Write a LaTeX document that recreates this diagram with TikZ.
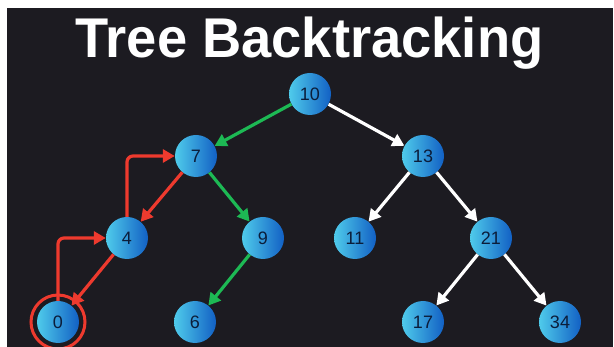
\documentclass[tikz,border=0pt]{standalone}
\usepackage{fontspec}
\setmainfont{Liberation Sans}
\usetikzlibrary{arrows.meta}
\definecolor{bg}{HTML}{1C1B21}
\definecolor{nodecyan}{HTML}{4FCBEB}
\definecolor{nodeblue}{HTML}{1260C4}
\definecolor{numcol}{HTML}{0B1D3A}
\definecolor{grn}{HTML}{1DB954}
\definecolor{redc}{HTML}{EE3A2E}
\tikzset{
  tnode/.style={circle, minimum size=42pt, inner sep=0pt, left color=nodecyan, right color=nodeblue, text=numcol, font=\fontsize{18}{18}\selectfont},
  edge/.style={line width=3.2pt, -{Triangle[length=12pt,width=13pt]}},
  wedge/.style={edge, white},
  gedge/.style={edge, grn},
  redge/.style={edge, redc},
  bedge/.style={edge, redc, rounded corners=6pt},
}
\begin{document}
\begin{tikzpicture}[x=1pt,y=-1pt]
\useasboundingbox (0,0) rectangle (614,347);
\fill[white] (0,0) rectangle (614,347);
\fill[bg] (7,8) rectangle (613,347);
\node[text=white, font=\bfseries\fontsize{56}{60}\selectfont, xscale=0.97, anchor=base] (title) at (309.5,58) {Tree Backtracking};
\node[tnode] (n10) at (310,94) {10};
\node[tnode] (n7) at (196,156) {7};
\node[tnode] (n13) at (423,156) {13};
\node[tnode] (n4) at (127,238) {4};
\node[tnode] (n9) at (263,238) {9};
\node[tnode] (n11) at (355,238) {11};
\node[tnode] (n21) at (491,238) {21};
\node[tnode] (n0) at (58,322) {0};
\node[tnode] (n6) at (195,322) {6};
\node[tnode] (n17) at (423,322) {17};
\node[tnode] (n34) at (560,322) {34};
\node[circle, draw=redc, line width=3pt, minimum size=54pt, inner sep=0pt] (hl) at (n0) {};
\draw[gedge] (n10) -- (n7);
\draw[wedge] (n10) -- (n13);
\draw[redge] (n7) -- (n4);
\draw[gedge] (n7) -- (n9);
\draw[wedge] (n13) -- (n11);
\draw[wedge] (n13) -- (n21);
\draw[redge] (n4) -- (n0);
\draw[gedge] (n9) -- (n6);
\draw[wedge] (n21) -- (n17);
\draw[wedge] (n21) -- (n34);
\draw[bedge] (n0.north) |- (n4.west);
\draw[bedge] (n4.north) |- (n7.west);
\end{tikzpicture}
\end{document}
